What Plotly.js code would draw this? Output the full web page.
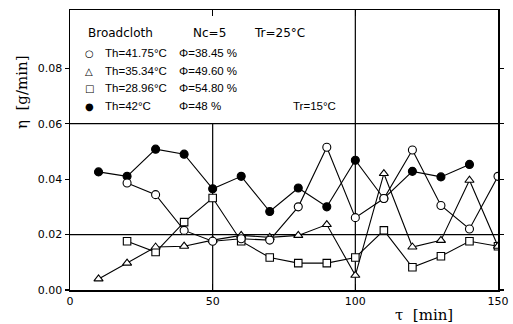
<!DOCTYPE html>
<html>
<head>
<meta charset="utf-8">
<script src="https://cdn.plot.ly/plotly-3.0.1.min.js"></script>
<style>html,body{margin:0;padding:0;background:#fff;}#chart{width:513px;height:324px;}</style>
</head>
<body>
<div id="chart"></div>
<script>
// Data
const tau = [10, 20, 30, 40, 50, 60, 70, 80, 90, 100, 110, 120, 130, 140, 150];
const etaTh42 = [0.0426, 0.0410, 0.0508, 0.0490, 0.0365, 0.0410, 0.0283, 0.0368, 0.0300, 0.0468, 0.0330, 0.0428, 0.0408, 0.0453, null];
const etaTh4175 = [null, 0.0386, 0.0344, 0.0215, 0.0176, 0.0185, 0.0180, 0.0300, 0.0515, 0.0261, 0.0330, 0.0505, 0.0305, 0.0220, 0.0410];
const etaTh3534 = [0.0040, 0.0097, 0.0155, 0.0158, 0.0180, 0.0197, 0.0190, 0.0197, 0.0236, 0.0053, 0.0420, 0.0155, 0.0179, 0.0396, 0.0158];
const etaTh2896 = [null, 0.0176, 0.0137, 0.0245, 0.0332, 0.0176, 0.0117, 0.0097, 0.0097, 0.0117, 0.0215, 0.0082, 0.0122, 0.0176, 0.0158];
const xTickVals = [0, 50, 100, 150];
const xTickText = ["0", "50", "100", "150"];
const yTickVals = [0, 0.02, 0.04, 0.06, 0.08];
const yTickText = ["0.00", "0.02", "0.04", "0.06", "0.08"];
const legendRows = [
  {sym: "○", th: "Th=41.75°C", phi: "Φ=38.45 %"},
  {sym: "△", th: "Th=35.34°C", phi: "Φ=49.60 %"},
  {sym: "□", th: "Th=28.96°C", phi: "Φ=54.80 %"},
  {sym: "●", th: "Th=42°C", phi: "Φ=48 %"}
];

const ML = 70, MR = 15, MT = 10, MB = 34, W = 513, H = 324;
const PW = W - ML - MR, PH = H - MT - MB;
const px = x => (x - ML) / PW;
const py = y => (H - MB - y) / PH;

function series(y, symbol, fill, size) {
  return {
    x: tau, y: y, type: 'scatter', mode: 'lines+markers',
    line: {color: '#000', width: 1.1},
    marker: {symbol: symbol, size: size, color: fill, line: {color: '#000', width: 1.1}},
    connectgaps: false, hoverinfo: 'skip', showlegend: false
  };
}

const data = [
  series(etaTh42, 'circle', '#000', 8),
  series(etaTh2896, 'square', '#fff', 7.5),
  series(etaTh3534, 'triangle-up', '#fff', 8),
  series(etaTh4175, 'circle', '#fff', 8)
];

const font = 'DejaVu Sans, sans-serif';
const font2 = 'Liberation Sans, Arial, sans-serif';
const ann = [];
function txt(text, x, y, size, fam, opts) {
  ann.push(Object.assign({text: text, xref: 'paper', yref: 'paper', x: px(x), y: py(y),
    xanchor: 'left', yanchor: 'middle', showarrow: false,
    font: {family: fam || font, size: size || 12, color: '#000'}}, opts || {}));
}
txt("Broadcloth", 86, 33, 12);
txt("Nc=5", 191, 33, 12);
txt("Tr=25°C", 252, 33, 12);
const rowY = [53, 71, 88, 106];
legendRows.forEach((r, i) => {
  txt(r.sym, 89, rowY[i], 10, font, {xanchor: 'center'});
  txt(r.th, 103, rowY[i], 11.5, font2);
  txt(r.phi, 177, rowY[i], 11.5, font2);
});
txt("Tr=15°C", 291, 106, 11.5, font2);
// axis titles
ann.push({text: "η  [g/min]", xref: 'paper', yref: 'paper', x: px(22), y: py(92), textangle: -90,
  xanchor: 'center', yanchor: 'middle', showarrow: false,
  font: {family: 'DejaVu Serif, serif', size: 15, color: '#000'}});
ann.push({text: "τ  [min]", xref: 'paper', yref: 'paper', x: px(393), y: py(315),
  xanchor: 'left', yanchor: 'middle', showarrow: false,
  font: {family: 'DejaVu Serif, serif', size: 15, color: '#000'}});

const lineStyle = {color: '#000', width: 1.2};
const shapes = [
  {type: 'line', xref: 'x', yref: 'y', x0: 0, x1: 150, y0: 0.02, y1: 0.02, line: lineStyle, layer: 'below'},
  {type: 'line', xref: 'x', yref: 'y', x0: 0, x1: 150, y0: 0.06, y1: 0.06, line: lineStyle, layer: 'below'},
  {type: 'line', xref: 'x', yref: 'paper', x0: 100, x1: 100, y0: 0, y1: 1, line: lineStyle, layer: 'below'},
  {type: 'line', xref: 'x', yref: 'y', x0: 50, x1: 50, y0: 0, y1: 0.06, line: lineStyle, layer: 'below'}
];

const layout = {
  width: W, height: H,
  margin: {l: ML, r: MR, t: MT, b: MB, pad: 0},
  paper_bgcolor: '#fff', plot_bgcolor: '#fff',
  showlegend: false,
  xaxis: {range: [0, 150], tickvals: xTickVals, ticktext: xTickText, showgrid: false, zeroline: false,
    showline: true, mirror: 'ticks', linecolor: '#000', linewidth: 1.5,
    ticks: 'inside', ticklen: 6, tickcolor: '#000', tickwidth: 1.2,
    tickfont: {family: font, size: 11, color: '#000'}},
  yaxis: {range: [0, 0.101], tickvals: yTickVals, ticktext: yTickText, showgrid: false, zeroline: false,
    showline: true, mirror: 'ticks', linecolor: '#000', linewidth: 1.5,
    ticks: 'outside', ticklen: 4, tickcolor: '#000', tickwidth: 1.2,
    tickfont: {family: font, size: 11, color: '#000'}},
  annotations: ann,
  shapes: shapes
};

Plotly.newPlot('chart', data, layout, {displayModeBar: false, staticPlot: true});
</script>
</body>
</html>
